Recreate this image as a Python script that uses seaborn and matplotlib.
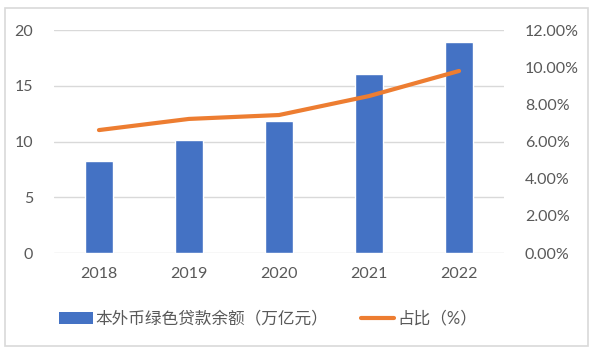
import numpy as np
import pandas as pd
import matplotlib
matplotlib.use("Agg")
import matplotlib.pyplot as plt
from matplotlib.patches import Patch, Rectangle
from matplotlib.lines import Line2D
from matplotlib.ticker import FuncFormatter, MultipleLocator
import seaborn as sns

years = ["2018", "2019", "2020", "2021", "2022"]
balance = [8.25, 10.15, 11.85, 16.05, 18.92]   # 本外币绿色贷款余额（万亿元）
ratio = [6.62, 7.22, 7.43, 8.45, 9.80]          # 占比（%）
bar_label = "本外币绿色贷款余额（万亿元）"
line_label = "占比（%）"

sns.set_theme(style="white")
plt.rcParams["font.family"] = ["Lato", "Noto Sans CJK SC", "DejaVu Sans"]

BLUE = "#4472C4"
ORANGE = "#ED7D31"
TXT = "#595959"
GRID = "#D9D9D9"

df = pd.DataFrame({"year": years, "balance": balance, "ratio": ratio})

fig = plt.figure(figsize=(5.93, 3.54), dpi=100)
ax = fig.add_axes([0.091, 0.285, 0.759, 0.63])
sns.barplot(data=df, x="year", y="balance", color=BLUE, width=0.31,
            saturation=1, ax=ax, zorder=3)
ax.set_ylim(0, 20)
ax.yaxis.set_major_locator(MultipleLocator(5))
ax.set_xlim(-0.5, 4.5)
ax.grid(axis="y", color=GRID, linewidth=1, zorder=0)
ax.set_axisbelow(True)
for s in ax.spines.values():
    s.set_visible(False)
ax.set_xlabel("")
ax.set_ylabel("")
ax.tick_params(axis="both", length=0, labelsize=11.5, colors=TXT)
ax.tick_params(axis="y", pad=15)
ax.tick_params(axis="x", pad=10)

ax2 = ax.twinx()
sns.pointplot(data=df, x="year", y="ratio", color=ORANGE, markers="",
              linewidth=3, ax=ax2)
ax2.set_ylim(0, 12)
ax2.yaxis.set_major_locator(MultipleLocator(2))
ax2.yaxis.set_major_formatter(FuncFormatter(lambda v, p: f"{v:.2f}%"))
ax2.set_xlim(-0.5, 4.5)
for s in ax2.spines.values():
    s.set_visible(False)
ax2.set_ylabel("")
ax2.set_xlabel("")
ax2.tick_params(axis="y", length=0, labelsize=11.5, colors=TXT, pad=15)
for l in ax2.lines:
    l.set_solid_capstyle("round")

handles = [Patch(facecolor=BLUE, edgecolor="none"),
           Line2D([0], [0], color=ORANGE, linewidth=3)]
fig.legend(handles, [bar_label, line_label], loc="center",
           bbox_to_anchor=(0.452, 0.10), ncol=2, frameon=False,
           fontsize=12, labelcolor=TXT, handlelength=2.0,
           handletextpad=0.15, columnspacing=2.0)

fig.patches.append(Rectangle((0.009, 0.022), 0.982, 0.955, transform=fig.transFigure,
                             fill=False, edgecolor=GRID, linewidth=1.2))

fig.savefig("out.png", dpi=100, facecolor="white")
